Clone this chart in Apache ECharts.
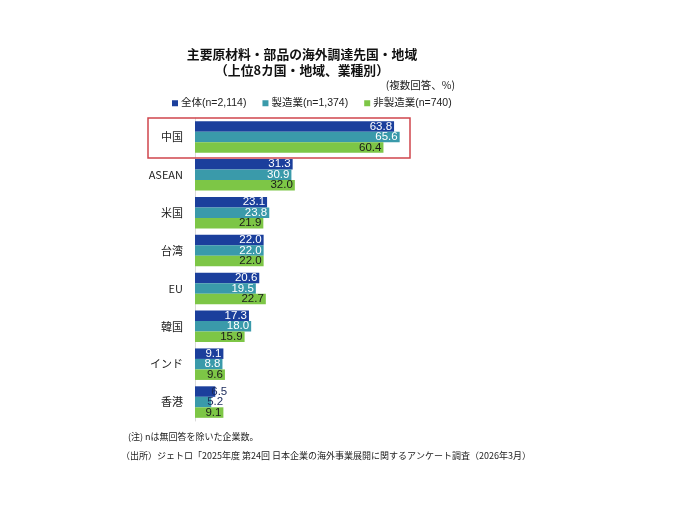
<!DOCTYPE html>
<html>
<head>
<meta charset="utf-8">
<script src="https://cdn.jsdelivr.net/npm/echarts@6/dist/echarts.min.js"></script>
<style>
  html, body { margin: 0; padding: 0; background: #fff; }
  #chart { width: 680px; height: 510px; }
</style>
</head>
<body>
<div id="chart"></div>
<script>
var categories = ['中国', 'ASEAN', '米国', '台湾', 'EU', '韓国', 'インド', '香港'];
var seriesNames = ['全体(n=2,114)', '製造業(n=1,374)', '非製造業(n=740)'];
var allValues = [63.8, 31.3, 23.1, 22.0, 20.6, 17.3, 9.1, 6.5];
var mfgValues = [65.6, 30.9, 23.8, 22.0, 19.5, 18.0, 8.8, 5.2];
var nonMfgValues = [60.4, 32.0, 21.9, 22.0, 22.7, 15.9, 9.6, 9.1];

var colors = ['#1b3f9c', '#3a9aaa', '#7dc646'];
var labelColors = ['#ffffff', '#ffffff', '#1a1a1a'];
var font = '"Liberation Sans", Arial, "Noto Sans CJK JP", sans-serif';
var jpFont = '"Noto Sans CJK JP", sans-serif';

var chart = echarts.init(document.getElementById('chart'));

function makeSeries(name, values, idx){
	return {
		name: name,
		type: 'bar',
		barWidth: 10.5,
		barGap: '0%',
		itemStyle: { color: colors[idx] },
		label: {
			show: true,
			position: 'insideRight',
			distance: 2,
			color: labelColors[idx],
			fontFamily: font,
			fontSize: 11.5,
			formatter: function(p){ return p.value.toFixed(1); }
		},
		data: values.map(function(v, i){
			// 香港の小さい棒はラベルがはみ出す
			if(i === 7 && idx < 2){
				return { value: v, label: { position: 'right', distance: -4, color: '#1a2a5a' } };
			}
			return v;
		})
	};
}

var option = {
	animation: false,
	title: {
		text: '主要原材料・部品の海外調達先国・地域\n（上位8カ国・地域、業種別）',
		left: 302,
		top: 46,
		padding: 0,
		textAlign: 'center',
		textStyle: {
			fontFamily: jpFont,
			fontSize: 12.8,
			fontWeight: 'bold',
			color: '#111',
			lineHeight: 16
		}
	},
	legend: {
		left: 167,
		top: 93,
		itemWidth: 6,
		itemHeight: 6,
		itemGap: 16,
		icon: 'rect',
		textStyle: { fontFamily: font, fontSize: 10.5, color: '#222', padding: [0, 0, 0, -2] },
		data: seriesNames
	},
	grid: {
		left: 195,
		top: 118,
		width: 312,
		height: 303,
		containLabel: false
	},
	xAxis: {
		type: 'value',
		min: 0,
		max: 100,
		show: false
	},
	yAxis: {
		type: 'category',
		inverse: true,
		data: categories,
		axisLine: { show: true, lineStyle: { color: '#d9d9d9', width: 1 } },
		axisTick: { show: false },
		axisLabel: { fontFamily: jpFont, fontSize: 11, color: '#222', margin: 12 }
	},
	graphic: [
		{
			type: 'rect',
			shape: { x: 148, y: 118, width: 262, height: 40 },
			style: { fill: 'none', stroke: '#d0454c', lineWidth: 1.5 },
			z: 10
		},
		{
			type: 'text',
			right: 225,
			top: 80,
			style: { text: '(複数回答、%)', fontFamily: jpFont, fontSize: 10.5, fill: '#222' }
		},
		{
			type: 'text',
			left: 128,
			top: 432,
			style: { text: '(注) nは無回答を除いた企業数。', fontFamily: jpFont, fontSize: 9, fill: '#222' }
		},
		{
			type: 'text',
			left: 121,
			top: 451,
			style: { text: '（出所）ジェトロ「2025年度 第24回 日本企業の海外事業展開に関するアンケート調査（2026年3月）', fontFamily: jpFont, fontSize: 9, fill: '#222' }
		}
	],
	series: [
		makeSeries(seriesNames[0], allValues, 0),
		makeSeries(seriesNames[1], mfgValues, 1),
		makeSeries(seriesNames[2], nonMfgValues, 2)
	]
};
chart.setOption(option);
</script>
</body>
</html>
